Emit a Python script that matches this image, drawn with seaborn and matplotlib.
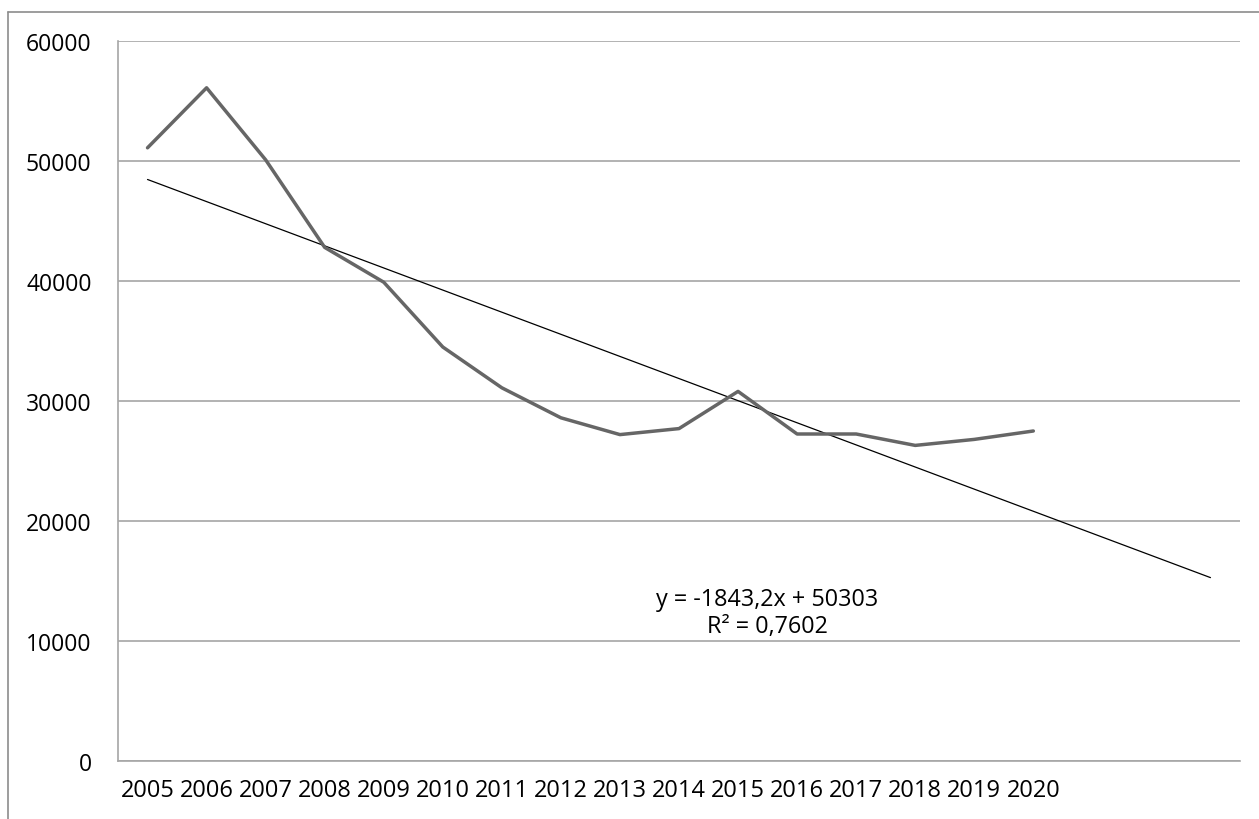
import numpy as np
import pandas as pd
import seaborn as sns
import matplotlib.pyplot as plt
from matplotlib.lines import Line2D

years = [2005, 2006, 2007, 2008, 2009, 2010, 2011, 2012,
         2013, 2014, 2015, 2016, 2017, 2018, 2019, 2020]
values = [51100, 56100, 50100, 42800, 39900, 34500, 31100, 28600,
          27200, 27700, 30800, 27250, 27250, 26300, 26800, 27500]
# linear trendline as printed on the chart, forecast 3 periods ahead
slope = -1843.2
intercept = 50303
r2 = 0.7602
forecast = 3

data = pd.DataFrame({'Year': years, 'Value': values})
data['pos'] = np.arange(len(data))

sns.set_style('white')
plt.rcParams['font.family'] = ['Open Sans', 'DejaVu Sans']
plt.rcParams['text.color'] = 'black'
plt.rcParams['xtick.labelcolor'] = 'black'
plt.rcParams['ytick.labelcolor'] = 'black'

fig = plt.figure(figsize=(12.59, 8.2), dpi=100)
ax = fig.add_axes([118 / 1259, 1 - 762 / 820, (1240 - 118) / 1259, 720 / 820])

n = len(years) + forecast
trend_x = np.arange(n)
trend_y = slope * (trend_x + 1) + intercept
ax.plot(trend_x, trend_y, color='black', lw=0.9, zorder=3)

sns.lineplot(data=data, x='pos', y='Value', ax=ax, color='#666666', lw=2.5, zorder=4)

ax.set_xlim(-0.5, n - 0.5)
ax.set_ylim(0, 60000)
ax.set_yticks(range(0, 60001, 10000))
ax.set_xticks(data['pos'])
ax.set_xticklabels([str(y) for y in years])
ax.set_xticks(np.arange(-0.5, n), minor=True)
ax.tick_params(axis='x', which='major', length=0, pad=12, labelsize=17, labelcolor='black')
ax.tick_params(axis='x', which='minor', length=7, width=1.5, color='#A6A6A6', direction='out')
ax.tick_params(axis='y', length=8, width=1.2, color='#A6A6A6', direction='out', pad=11,
               labelsize=16.5, labelcolor='black')
ax.set_xlabel('')
ax.set_ylabel('')

ax.grid(axis='y', color='#A6A6A6', lw=1.2)
ax.set_axisbelow(True)
for s in ['top', 'right']:
    ax.spines[s].set_visible(False)
for s in ['left', 'bottom']:
    ax.spines[s].set_color('#A6A6A6')
    ax.spines[s].set_linewidth(1.2)

ax.text(10.49, 12400, f'y = {slope}x + {intercept}'.replace('.', ',') + '\n' +
        f'R² = {r2}'.replace('.', ','),
        ha='center', va='center', fontsize=16.8, linespacing=1.15, color='black')

# outer chart border (top and left visible)
fig.add_artist(Line2D([8 / 1259, 1], [1 - 13 / 820, 1 - 13 / 820], color='#8C8C8C', lw=1.2))
fig.add_artist(Line2D([8 / 1259, 8 / 1259], [0, 1 - 13 / 820], color='#8C8C8C', lw=1.2))

fig.savefig('out.png', dpi=100)
